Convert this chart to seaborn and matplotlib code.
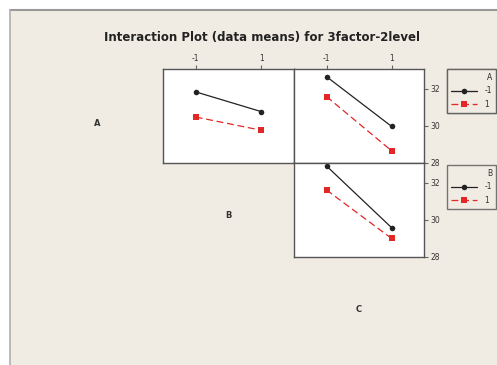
import matplotlib
matplotlib.use("Agg")
import matplotlib.pyplot as plt
import seaborn as sns
import pandas as pd
from matplotlib.patches import Rectangle
from matplotlib.lines import Line2D

sns.set_style("white")
plt.rcParams['font.family'] = ['DejaVu Sans']

# ---- data ----
levels = [-1, 1]
ab_a_neg = [31.82, 30.76]   # A=-1 across B
ab_a_pos = [30.47, 29.76]   # A=1 across B
ac_a_neg = [32.64, 29.97]   # A=-1 across C
ac_a_pos = [31.57, 28.66]   # A=1 across C
bc_b_neg = [32.89, 29.58]   # B=-1 across C
bc_b_pos = [31.60, 29.00]   # B=1 across C
yticks = [28, 30, 32]
xticklabels = ["-1", "1"]
title = "Interaction Plot (data means) for 3factor-2level"

W, H = 497, 365
fig = plt.figure(figsize=(W / 100, H / 100), dpi=100)
fig.patch.set_facecolor("white")

def fx(x):
    return x / W

def fy(y):
    return 1 - y / H

# beige background with grey top/left border
bg = Rectangle((fx(10), 0), 1 - fx(10), fy(10), transform=fig.transFigure,
               facecolor="#F1ECE3", edgecolor="none", zorder=-10)
fig.add_artist(bg)
fig.add_artist(Line2D([fx(10), 1], [fy(10), fy(10)], transform=fig.transFigure,
                      color="#9a9a9a", lw=1.5, zorder=-5))
fig.add_artist(Line2D([fx(10), fx(10)], [0, fy(10)], transform=fig.transFigure,
                      color="#b0b0b0", lw=1.2, zorder=-5))

def make_ax(x0, y0, x1, y1):
    ax = fig.add_axes([fx(x0), fy(y1), fx(x1) - fx(x0), fy(y0) - fy(y1)])
    ax.set_zorder(2)
    ax.set_facecolor("white")
    for s in ax.spines.values():
        s.set_color("#555555")
        s.set_linewidth(1.0)
    return ax

RED = "#e32626"
palette = {"-1": "#222222", "1": RED}
markers = {"-1": "o", "1": "s"}
dashes = {"-1": "", "1": (5.5, 3)}

def draw(ax, neg, pos):
    df = pd.DataFrame({
        "x": levels + levels,
        "y": list(neg) + list(pos),
        "g": ["-1"] * 2 + ["1"] * 2,
    })
    sns.lineplot(data=df, x="x", y="y", hue="g", style="g", palette=palette,
                 markers=markers, dashes=dashes, markersize=4, linewidth=0.9,
                 markeredgewidth=0, legend=False, ax=ax)
    ax.set_xlabel("")
    ax.set_ylabel("")
    ax.set_xlim(-2, 2)
    ax.set_ylim(28, 33.05)

tick_kw = dict(labelsize=5.5, length=3, width=0.8, color="#666666",
               labelcolor="#333333", pad=1.5)

ax_ab = make_ax(163, 69, 294, 163)
draw(ax_ab, ab_a_neg, ab_a_pos)
ax_ab.set_xticks(levels)
ax_ab.set_xticklabels(xticklabels)
ax_ab.xaxis.tick_top()
ax_ab.tick_params(axis="x", **tick_kw)
ax_ab.set_yticks([])

ax_ac = make_ax(294, 69, 424, 163)
draw(ax_ac, ac_a_neg, ac_a_pos)
ax_ac.set_xticks(levels)
ax_ac.set_xticklabels(xticklabels)
ax_ac.xaxis.tick_top()
ax_ac.set_yticks(yticks)
ax_ac.yaxis.tick_right()
ax_ac.tick_params(axis="x", **tick_kw)
ax_ac.tick_params(axis="y", **tick_kw)

ax_bc = make_ax(294, 163, 424, 257)
draw(ax_bc, bc_b_neg, bc_b_pos)
ax_bc.set_xticks([])
ax_bc.set_yticks(yticks)
ax_bc.yaxis.tick_right()
ax_bc.tick_params(axis="y", **tick_kw)

# legends
def legend(name, top):
    handles = [
        Line2D([], [], color="#222222", marker="o", markersize=4, lw=0.9, markeredgewidth=0),
        Line2D([], [], color=RED, marker="s", markersize=4, lw=0.9,
               markeredgewidth=0, linestyle=(0, (5.5, 3))),
    ]
    lg = fig.legend(handles, xticklabels, title=name, loc="upper left",
                    bbox_to_anchor=(fx(447), fy(top)), fontsize=5.5,
                    title_fontsize=5.5, frameon=True, fancybox=False,
                    handlelength=3.4, handletextpad=1.0, borderpad=0.5,
                    labelspacing=0.6, alignment="right", borderaxespad=0)
    fr = lg.get_frame()
    fr.set_edgecolor("#555555")
    fr.set_linewidth(1.0)
    fr.set_facecolor("#F1ECE3")
    lg.get_title().set_color("#333333")
    for t in lg.get_texts():
        t.set_color("#333333")
    return lg

lgA = legend("A", 69)
fig.add_artist(lgA)
lgB = legend("B", 165)

# diagonal labels
for lab, (x, y) in zip(["A", "B", "C"], [(97, 124), (228, 215), (359, 310)]):
    fig.text(fx(x), fy(y), lab, ha="center", va="center", fontsize=6,
             fontweight="bold", color="#333333")

fig.text(fx(262), fy(37), title, ha="center", va="center", fontsize=8.5,
         fontweight="bold", color="#222222")

fig.savefig("out.png", dpi=100, facecolor=fig.get_facecolor())
